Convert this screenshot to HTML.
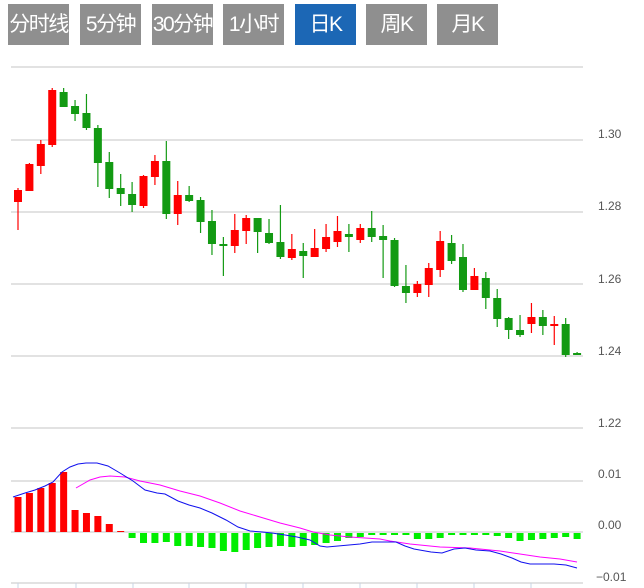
<!DOCTYPE html>
<html><head><meta charset="utf-8">
<style>
body{margin:0;background:#fff;width:644px;height:588px;overflow:hidden;font-family:"Liberation Sans","Noto Sans CJK SC",sans-serif;}
.btn{position:absolute;top:4px;height:41px;width:61px;background:#8f8f8f;color:#fff;font-size:21px;line-height:41px;text-align:center;letter-spacing:-1.5px;white-space:nowrap;overflow:visible;}
.on{background:#1c67b5;}
svg{position:absolute;left:0;top:0;}
</style></head><body>
<div class="btn" style="left:8px">分时线</div>
<div class="btn" style="left:80px">5分钟</div>
<div class="btn" style="left:152px">30分钟</div>
<div class="btn" style="left:223px">1小时</div>
<div class="btn on" style="left:295px">日K</div>
<div class="btn" style="left:366px">周K</div>
<div class="btn" style="left:437px">月K</div>
<svg id="s" width="644" height="588" xmlns="http://www.w3.org/2000/svg" font-family="Liberation Sans, sans-serif" font-size="12" fill="#555">
<g stroke="#e2e2e2" stroke-width="2">
<line x1="11" y1="67" x2="583" y2="67"/>
<line x1="11" y1="140" x2="583" y2="140"/>
<line x1="11" y1="212" x2="583" y2="212"/>
<line x1="11" y1="284" x2="583" y2="284"/>
<line x1="11" y1="356" x2="583" y2="356"/>
<line x1="11" y1="428" x2="583" y2="428"/>
<line x1="11" y1="481" x2="583" y2="481"/>
<line x1="11" y1="532" x2="583" y2="532"/>
<line x1="11" y1="583" x2="583" y2="583"/>
</g>
<g stroke="#c8d4e4" stroke-width="1">
<line x1="18" y1="583" x2="18" y2="588"/><line x1="76" y1="583" x2="76" y2="588"/><line x1="133" y1="583" x2="133" y2="588"/><line x1="189" y1="583" x2="189" y2="588"/><line x1="246" y1="583" x2="246" y2="588"/><line x1="303" y1="583" x2="303" y2="588"/><line x1="360" y1="583" x2="360" y2="588"/><line x1="417" y1="583" x2="417" y2="588"/><line x1="474" y1="583" x2="474" y2="588"/><line x1="531" y1="583" x2="531" y2="588"/>
</g>
<text x="598" y="138">1.30</text>
<text x="598" y="210">1.28</text>
<text x="598" y="283">1.26</text>
<text x="598" y="355">1.24</text>
<text x="598" y="427">1.22</text>
<text x="598" y="478">0.01</text>
<text x="598" y="529">0.00</text>
<text x="596" y="581">−0.01</text>
<g id="c"></g>
<polyline fill="none" stroke="#ff00ff" stroke-width="1" points="76,488 90,480 100,477 110,476 125,477 140,481 160,485 180,491 200,496 220,503 240,511 260,517 280,523 300,528 313,532 330,535 350,537 380,539 390,541 410,544 440,547 470,548 500,551 520,554 540,557 560,559 577,562"/>
<polyline fill="none" stroke="#1010ee" stroke-width="1" points="13,497 25,493 35,490 45,486 53,482 62,472 70,467 78,464 86,463 97,463 108,466 120,473 133,481 145,490 157,493 165,494 178,501 189,505 200,508 212,513 226,520 238,527 250,531 262,532 272,533 285,535 297,537 310,540 320,546 327,547 338,546 349,545 360,544 372,542 384,542 396,542 405,546 414,549 431,552 442,553 454,549 465,548 476,550 490,551 501,554 512,558 521,562 530,564 554,564 566,565 577,568"/>
</svg>
<script>
var K=[[190,202,188,230],[164,191,163,191],[144,166,140,174],[90,145,88,147],[92,107,88,107],[106,114,100,121],[113,128,94,130],[128,163,125,187],[162,189,152,198],[188,194,174,206],[194,205,182,212],[176,206,175,208],[161,177,155,185],[161,214,141,219],[195,214,181,225],[195,201,186,202],[200,222,197,233],[221,244,210,255],[244,246,237,276],[230,246,214,253],[218,231,215,244],[218,232,218,253],[233,243,219,244],[242,257,205,259],[249,258,234,260],[251,256,243,278],[248,257,229,257],[237,249,224,252],[231,242,216,247],[234,237,224,252],[228,240,224,243],[228,237,211,242],[236,240,225,278],[240,286,238,287],[286,293,265,303],[284,293,281,297],[268,285,263,297],[241,270,231,277],[243,261,235,264],[257,290,244,292],[276,290,268,290],[278,298,272,309],[298,319,289,327],[318,330,317,339],[330,335,315,337],[317,324,303,333],[317,326,310,335],[324,325,316,345],[324,355,318,357],[353,354,352,355]];
var red=[1,1,1,1,0,0,0,0,0,0,0,1,1,0,1,0,0,0,0,1,1,0,0,0,1,0,1,1,1,0,1,0,0,0,0,1,1,1,0,0,1,0,0,0,0,1,0,1,0,0];
var M=[497,493,488,483,472,510,513,516,524,531,538,543,543,542,546,546,547,548,551,552,550,548,547,546,547,546,545,543,541,538,537,534,533,533,535,539,539,538,534,533,535,535,536,538,541,540,539,538,537,539];
var h='';
for(var i=0;i<50;i++){var x=18+i*11.41,k=K[i],c=red[i]?'#ff0000':'#139a13';
h+='<line x1="'+x+'" x2="'+x+'" y1="'+k[2]+'" y2="'+k[3]+'" stroke="'+c+'" stroke-width="1.2"/>';
h+='<rect x="'+(x-4)+'" y="'+k[0]+'" width="8" height="'+Math.max(2,k[1]-k[0])+'" fill="'+c+'"/>';
var m=M[i];
if(i<10){h+='<rect x="'+(x-3.5)+'" y="'+m+'" width="7" height="'+Math.max(1,532-m)+'" fill="#ff0000"/>';}
else{h+='<rect x="'+(x-3.5)+'" y="533" width="7" height="'+Math.max(2,m-533)+'" fill="#00ee00"/>';}
}
document.getElementById('c').innerHTML=h;
</script>
</body></html>
